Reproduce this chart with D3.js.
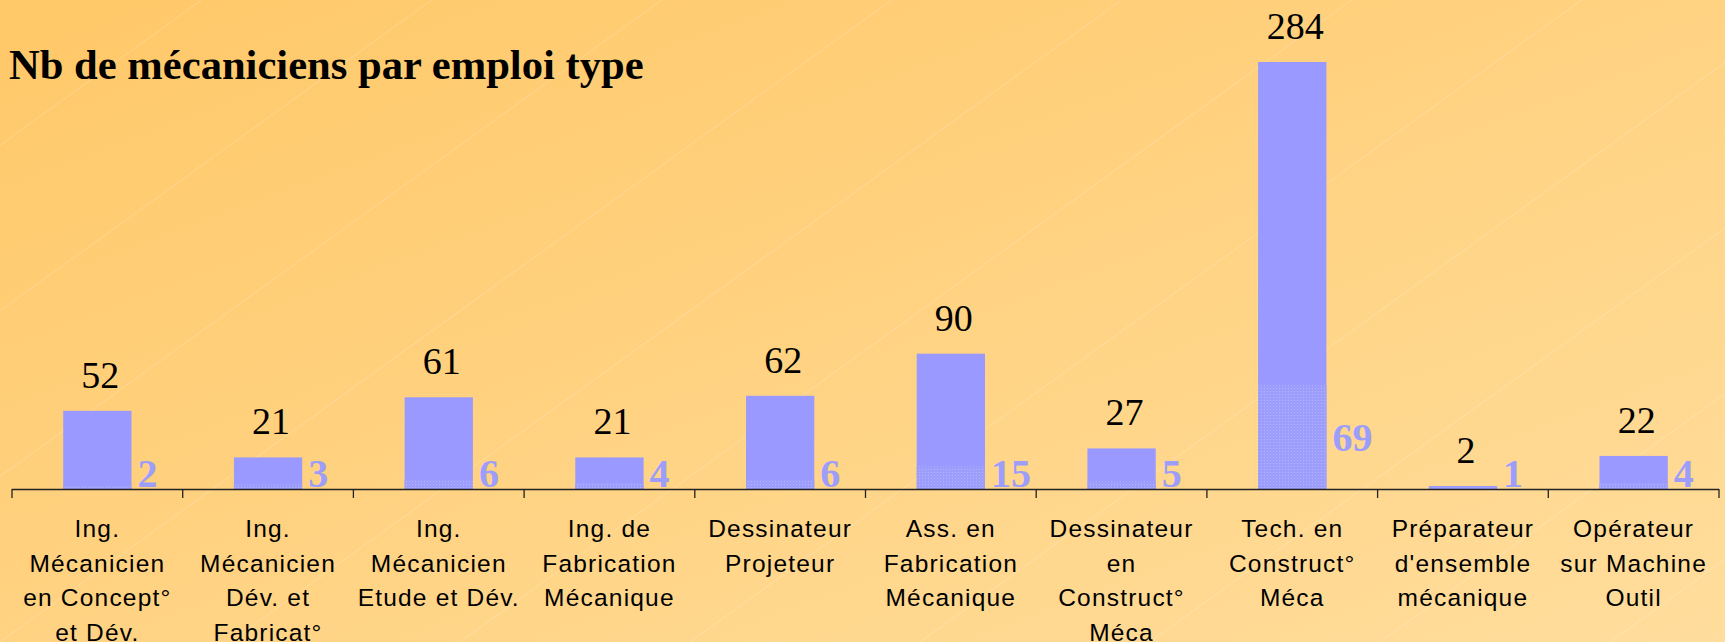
<!DOCTYPE html>
<html>
<head>
<meta charset="utf-8">
<script src="https://cdn.jsdelivr.net/npm/d3@7"></script>
<style>
html,body{margin:0;padding:0;overflow:hidden;}
svg{display:block;}
</style>
</head>
<body>
<script>
const title = "Nb de mécaniciens par emploi type";
const categories = [
  ["Ing.", "Mécanicien", "en Concept°", "et Dév."],
  ["Ing.", "Mécanicien", "Dév. et", "Fabricat°"],
  ["Ing.", "Mécanicien", "Etude et Dév."],
  ["Ing. de", "Fabrication", "Mécanique"],
  ["Dessinateur", "Projeteur"],
  ["Ass. en", "Fabrication", "Mécanique"],
  ["Dessinateur", "en", "Construct°", "Méca"],
  ["Tech. en", "Construct°", "Méca"],
  ["Préparateur", "d'ensemble", "mécanique"],
  ["Opérateur", "sur Machine", "Outil"]
];
const totalValues = [52, 21, 61, 21, 62, 90, 27, 284, 2, 22];
const subValues = [2, 3, 6, 4, 6, 15, 5, 69, 1, 4];

const W = 1725, H = 642;
const svg = d3.select("body").append("svg").attr("width", W).attr("height", H);
const defs = svg.append("defs");

const grad = defs.append("linearGradient").attr("id", "bg")
  .attr("x1", "0%").attr("y1", "0%").attr("x2", "100%").attr("y2", "100%");
grad.append("stop").attr("offset", "0%").attr("stop-color", "#ffc868");
grad.append("stop").attr("offset", "100%").attr("stop-color", "#ffdd9c");

const pat = defs.append("pattern").attr("id", "dots")
  .attr("width", 3).attr("height", 3).attr("patternUnits", "userSpaceOnUse");
pat.append("rect").attr("width", 3).attr("height", 3).attr("fill", "#9d9dfc");
pat.append("rect").attr("x", 1).attr("y", 1).attr("width", 1).attr("height", 1).attr("fill", "#b4b4ff");

svg.append("rect").attr("width", W).attr("height", H).attr("fill", "url(#bg)");

// faint diagonal texture lines
const lineG = svg.append("g").attr("stroke", "#ffffff").attr("stroke-opacity", 0.22).attr("stroke-width", 1);
for (let k = -12; k < 20; k++) {
  const x0 = k * 230;
  lineG.append("line").attr("x1", x0).attr("y1", H).attr("x2", x0 + H / 0.72).attr("y2", 0);
}

const axisY = 489, x0 = 12, x1 = 1719;
const x = d3.scaleBand().domain(d3.range(categories.length)).range([x0, x1])
  .paddingInner(0.6).paddingOuter(0.3);
const xb = d3.scaleBand().domain(d3.range(categories.length)).range([x0, x1]).padding(0);
const y = d3.scaleLinear().domain([0, d3.max(totalValues)]).range([axisY, 62]);

// title
svg.append("text").attr("x", 9).attr("y", 79)
  .attr("font-family", "'Liberation Serif', 'Times New Roman', serif")
  .attr("font-weight", "bold").attr("font-size", 42.6).attr("fill", "#000")
  .text(title);

// bars
svg.append("g").selectAll("rect").data(totalValues).join("rect")
  .attr("x", (d, i) => x(i)).attr("width", x.bandwidth())
  .attr("y", d => y(d)).attr("height", d => axisY - y(d))
  .attr("fill", "#9999ff");

svg.append("g").selectAll("rect").data(subValues).join("rect")
  .attr("x", (d, i) => x(i)).attr("width", x.bandwidth())
  .attr("y", d => y(d)).attr("height", d => axisY - y(d))
  .attr("fill", "url(#dots)");

// axis
const axis = d3.axisBottom(xb).tickSize(0).tickFormat("");
const ag = svg.append("g").attr("transform", `translate(0,${axisY})`).call(axis);
ag.select(".domain").attr("stroke", "#222").attr("stroke-width", 1.3).attr("d", `M${x0},0.5H${x1}`);
const bounds = d3.range(categories.length + 1).map(i => i < categories.length ? xb(i) : x1);
svg.append("g").selectAll("line").data(bounds).join("line")
  .attr("x1", d => d).attr("x2", d => d)
  .attr("y1", axisY).attr("y2", axisY + 9)
  .attr("stroke", "#222").attr("stroke-width", 1.3);

// total labels
svg.append("g").selectAll("text").data(totalValues).join("text")
  .attr("x", (d, i) => x(i) + x.bandwidth() / 2 + 3)
  .attr("y", d => y(d) - 23)
  .attr("text-anchor", "middle")
  .attr("font-family", "'Liberation Serif', 'Times New Roman', serif")
  .attr("font-size", 38).attr("fill", "#000")
  .text(d => d);

// sub labels
svg.append("g").selectAll("text").data(subValues).join("text")
  .attr("x", (d, i) => x(i) + x.bandwidth() + 6)
  .attr("y", d => Math.min(y(d / 2) + 14, axisY - 2))
  .attr("font-family", "'Liberation Serif', 'Times New Roman', serif")
  .attr("font-weight", "bold").attr("font-size", 40).attr("fill", "#9d9dfb")
  .text(d => d);

// category labels
const cg = svg.append("g").selectAll("text").data(categories).join("text")
  .attr("text-anchor", "middle")
  .attr("font-family", "'Liberation Sans', Arial, sans-serif")
  .attr("font-size", 24.5).attr("letter-spacing", 1.2).attr("fill", "#000");
cg.each(function (lines, i) {
  const t = d3.select(this);
  lines.forEach((ln, j) => {
    t.append("tspan").attr("x", xb(i) + xb.bandwidth() / 2)
      .attr("y", 537 + j * 34.5).text(ln);
  });
});
</script>
</body>
</html>
